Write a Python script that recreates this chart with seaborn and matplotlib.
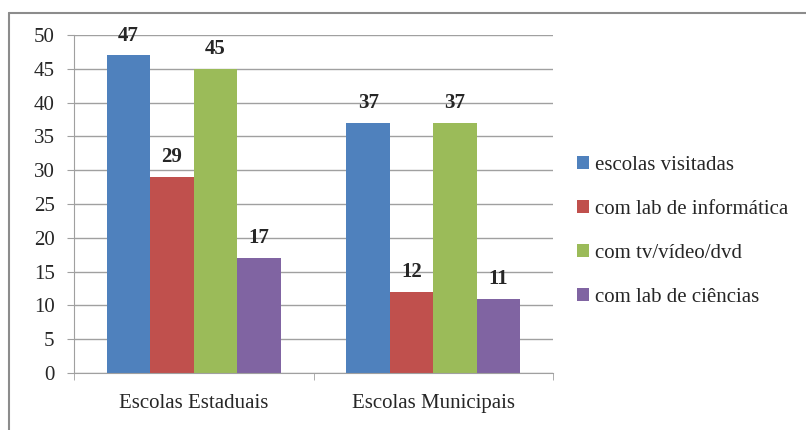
import pandas as pd
import seaborn as sns
import matplotlib.pyplot as plt
from matplotlib.lines import Line2D

escolas = ["Escolas Estaduais", "Escolas Municipais"]
series = ["escolas visitadas", "com lab de informática", "com tv/vídeo/dvd", "com lab de ciências"]
visitadas = [47, 37]
lab_informatica = [29, 12]
tv_video = [45, 37]
lab_ciencias = [17, 11]
cores = ["#4F81BD", "#C0504D", "#9BBB59", "#8064A2"]

df = pd.DataFrame({
    "escola": escolas * 4,
    "serie": [s for s in series for _ in escolas],
    "valor": visitadas + lab_informatica + tv_video + lab_ciencias,
})

sns.set_style("white")
plt.rcParams["font.family"] = ["Liberation Serif", "DejaVu Serif"]

fig = plt.figure(figsize=(8.06, 4.30), dpi=100)
ax = fig.add_axes([74 / 806, 1 - 373 / 430, (553 - 74) / 806, (373 - 35) / 430])

sns.barplot(data=df, x="escola", y="valor", hue="serie", hue_order=series,
            palette=cores, width=0.725, gap=0, saturation=1, ax=ax, linewidth=0)

for cont in ax.containers:
    ax.bar_label(cont, fmt="%d", padding=7, fontsize=15, fontweight="bold")

ax.set_ylim(0, 50)
ax.set_xlim(-0.5, 1.5)
ax.set_yticks(range(0, 51, 5))
ax.yaxis.grid(True, color="#A0A0A0", linewidth=1)
ax.set_axisbelow(True)
ax.set_xlabel("")
ax.set_ylabel("")
ax.tick_params(axis="y", labelsize=15, length=5, color="#A0A0A0", left=True, pad=9)
ax.tick_params(axis="x", labelsize=15, length=0, pad=15)
ax.set_xticks([-0.5, 0.5, 1.5], minor=True)
ax.tick_params(axis="x", which="minor", length=5, color="#A0A0A0", bottom=True)
for side in ["top", "right"]:
    ax.spines[side].set_visible(False)
for side in ["left", "bottom"]:
    ax.spines[side].set_color("#A0A0A0")

ax.legend(loc="center left", bbox_to_anchor=(1.01, 0.42), frameon=False, fontsize=15,
          handlelength=0.6, handleheight=0.6, handletextpad=0.3, labelspacing=1.2)

# moldura (apenas topo e esquerda visiveis)
fig.add_artist(Line2D([9 / 806, 9 / 806], [0, 1 - 13 / 430], transform=fig.transFigure,
                      color="#8C8C8C", linewidth=1.5))
fig.add_artist(Line2D([9 / 806, 1], [1 - 13 / 430, 1 - 13 / 430], transform=fig.transFigure,
                      color="#8C8C8C", linewidth=1.5))

fig.savefig("out.png", dpi=100)
